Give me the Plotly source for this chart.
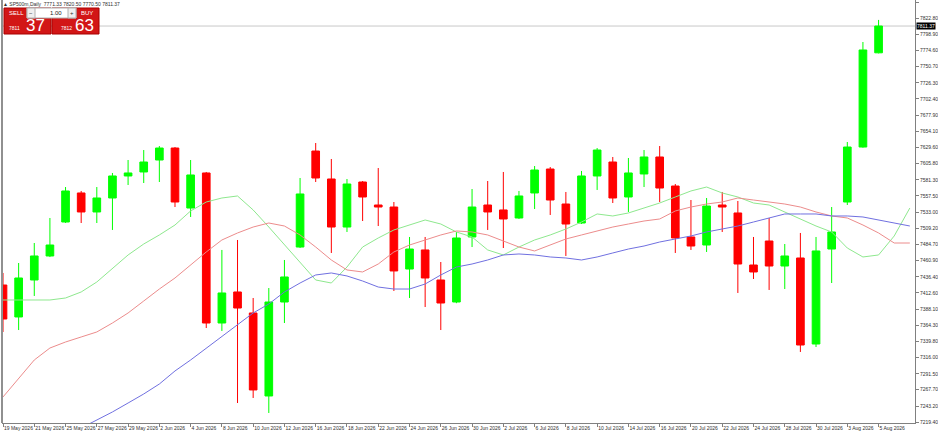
import plotly.graph_objects as go

# ---------------- data ----------------
dates = ["2026-05-19","2026-05-20","2026-05-21","2026-05-22","2026-05-25","2026-05-26","2026-05-27","2026-05-28","2026-05-29",
         "2026-06-01","2026-06-02","2026-06-03","2026-06-04","2026-06-05","2026-06-08","2026-06-09","2026-06-10","2026-06-11","2026-06-12",
         "2026-06-15","2026-06-16","2026-06-17","2026-06-18","2026-06-19","2026-06-22","2026-06-23","2026-06-24","2026-06-25","2026-06-26",
         "2026-06-29","2026-06-30","2026-07-01","2026-07-02","2026-07-03","2026-07-06","2026-07-07","2026-07-08","2026-07-09","2026-07-10",
         "2026-07-13","2026-07-14","2026-07-15","2026-07-16","2026-07-17","2026-07-20","2026-07-21","2026-07-22","2026-07-23","2026-07-24",
         "2026-07-27","2026-07-28","2026-07-29","2026-07-30","2026-07-31","2026-08-03","2026-08-04","2026-08-05"]

opens = [7424.2,7376.4,7431.7,7467.6,7518.4,7561.8,7533.4,7554.3,7587.2,7593.2,7611.1,7629.0,7539.3,7591.7,7367.4,7413.8,7382.4,7258.3,7398.8,
         7481.0,7624.5,7582.7,7510.9,7578.2,7543.8,7540.8,7448.1,7476.6,7431.7,7398.8,7496.0,7543.8,7536.4,7524.4,7561.8,7597.6,7545.3,7516.9,
         7587.2,7608.1,7555.8,7590.2,7615.6,7572.2,7496.0,7484.0,7543.8,7531.9,7454.1,7490.0,7452.6,7464.6,7336.0,7478.0,7548.3,7630.5,7771.33]
highs = [7442.2,7457.1,7487.0,7524.4,7570.7,7564.8,7570.7,7591.7,7611.1,7626.0,7632.0,7630.5,7611.1,7593.2,7476.6,7491.5,7404.8,7419.7,7461.6,
         7584.2,7636.5,7612.6,7582.7,7579.7,7599.1,7548.3,7496.0,7496.0,7458.6,7503.5,7567.7,7579.7,7593.2,7564.8,7602.1,7600.6,7563.3,7594.7,
         7629.0,7615.6,7614.1,7626.0,7632.0,7575.2,7551.3,7554.3,7563.3,7549.8,7496.0,7524.4,7485.5,7502.0,7496.0,7540.8,7638.0,7787.5,7820.50]
lows = [7354.0,7356.9,7407.8,7466.0,7517.0,7516.9,7516.9,7506.5,7573.7,7576.7,7578.2,7540.8,7525.9,7359.9,7355.5,7247.8,7255.3,7232.9,7367.4,
        7479.5,7578.2,7472.1,7503.5,7519.9,7512.4,7415.3,7404.8,7391.3,7356.9,7397.0,7481.0,7506.5,7479.5,7523.0,7537.8,7528.9,7467.6,7515.5,
        7566.3,7546.8,7533.4,7570.7,7548.3,7472.1,7476.6,7473.6,7503.5,7412.3,7433.2,7416.8,7418.2,7324.1,7331.5,7427.2,7543.8,7629.5,7770.50]
closes = [7373.4,7434.7,7467.6,7484.0,7564.8,7533.4,7554.3,7587.2,7591.7,7608.1,7629.0,7548.3,7588.7,7367.4,7412.3,7389.8,7267.3,7398.8,7436.2,
          7560.3,7584.2,7510.9,7575.2,7555.8,7540.8,7445.2,7478.0,7434.7,7397.3,7494.5,7540.8,7533.4,7522.9,7557.3,7596.1,7551.3,7515.4,7587.2,
          7626.0,7554.3,7591.7,7615.6,7569.2,7494.5,7482.5,7542.3,7540.8,7455.6,7443.7,7452.6,7467.6,7334.5,7475.1,7503.5,7630.5,7775.6,7811.37]

# moving averages (drawn shifted 2 bars forward, so 2 extra points at the right)
ma_green = [7401.8,7401.8,7401.8,7401.8,7404.8,7413.8,7428.7,7449.6,7469.1,7485.5,7499.0,7513.9,7534.9,7548.3,7554.3,7557.3,7536.4,7510.9,7484.0,
            7457.1,7431.7,7427.2,7451.1,7481.0,7494.5,7506.5,7513.9,7521.4,7515.4,7503.5,7496.0,7476.6,7469.1,7481.0,7491.5,7499.0,7507.9,7518.4,
            7530.4,7527.4,7531.9,7539.3,7546.8,7555.8,7564.8,7570.7,7561.8,7555.8,7546.8,7543.8,7533.4,7522.9,7512.4,7503.5,7479.5,7466.1,7469.1,
            7497.5,7539.3]
ma_red = [7256.8,7285.2,7312.1,7330.0,7339.0,7346.5,7354.0,7367.4,7382.4,7400.3,7418.2,7434.7,7454.1,7473.6,7491.5,7502.0,7510.9,7516.9,7512.4,
          7499.0,7481.0,7461.6,7446.7,7443.7,7455.6,7473.6,7484.0,7491.5,7499.0,7505.0,7503.5,7499.0,7490.0,7481.0,7475.1,7484.0,7493.0,7499.0,
          7505.0,7510.9,7515.4,7519.9,7522.9,7534.9,7540.8,7545.3,7548.3,7554.3,7551.3,7548.3,7545.3,7540.8,7533.4,7527.4,7524.4,7513.9,7502.0,
          7487.0,7487.0]
ma_blue = [None,None,None,None,None,7210.4,7222.4,7234.4,7247.8,7261.3,7276.2,7295.7,7312.1,7330.0,7346.5,7364.4,7382.4,7395.8,7413.8,
           7427.2,7439.2,7442.2,7437.7,7430.2,7421.2,7418.2,7418.2,7425.7,7439.2,7451.1,7455.6,7461.6,7469.1,7470.6,7469.1,7466.1,7464.6,7461.6,
           7466.1,7472.1,7478.0,7482.5,7488.5,7493.0,7497.5,7503.5,7507.9,7512.4,7518.4,7524.4,7530.4,7530.4,7530.4,7527.4,7527.4,7525.9,7521.4,
           7516.9,7512.4]

tick_labels = ["19 May 2026","21 May 2026","25 May 2026","27 May 2026","29 May 2026","2 Jun 2026","4 Jun 2026","8 Jun 2026","10 Jun 2026",
               "12 Jun 2026","16 Jun 2026","18 Jun 2026","22 Jun 2026","24 Jun 2026","26 Jun 2026","30 Jun 2026","2 Jul 2026","6 Jul 2026",
               "8 Jul 2026","10 Jul 2026","14 Jul 2026","16 Jul 2026","20 Jul 2026","22 Jul 2026","24 Jul 2026","28 Jul 2026","30 Jul 2026",
               "3 Aug 2026","5 Aug 2026"]
price_ticks = [7847.30,7822.80,7798.90,7774.60,7750.70,7726.30,7702.40,7677.90,7654.10,7629.60,7605.80,7581.30,7557.50,7533.00,
               7509.20,7484.70,7460.90,7436.40,7412.60,7388.10,7364.30,7339.80,7316.00,7291.50,7267.70,7243.20,7219.40]

symbol = "SP500m,Daily"
bid, ask, lot = "7811.37", "7812.63", "1.00"

# ---------------- figure ----------------
W, H = 938, 433
L, R, T, B = 2, 23, 0, 10
pw, ph = W - L - R, H - T - B

def fx(p):
    return (p - L) / pw

def fy(p):
    return 1 - (p - T) / ph

bar_idx = list(range(len(dates)))
ma_idx = list(range(len(ma_green)))
FONT = "Liberation Sans"

fig = go.Figure()
fig.add_trace(go.Candlestick(
    x=bar_idx, open=opens, high=highs, low=lows, close=closes,
    increasing=dict(line=dict(color="#00ff00", width=1), fillcolor="#00ff00"),
    decreasing=dict(line=dict(color="#ff0000", width=1), fillcolor="#ff0000"),
    whiskerwidth=0, showlegend=False, hoverinfo="skip"))
fig.add_trace(go.Scatter(x=ma_idx, y=ma_green, mode="lines", line=dict(color="#8ee88e", width=1), showlegend=False, hoverinfo="skip"))
fig.add_trace(go.Scatter(x=ma_idx, y=ma_red, mode="lines", line=dict(color="#ec8c8c", width=1), showlegend=False, hoverinfo="skip"))
fig.add_trace(go.Scatter(x=ma_idx, y=ma_blue, mode="lines", line=dict(color="#7070e0", width=1), showlegend=False, hoverinfo="skip"))

shapes = [
    dict(type="line", xref="paper", yref="y", x0=0, x1=1, y0=closes[-1], y1=closes[-1], line=dict(color="#c8c8c8", width=1), layer="below"),
    dict(type="line", xref="paper", yref="paper", x0=0, x1=0, y0=0, y1=1, line=dict(color="#909090", width=2)),
    # trade panel
    dict(type="rect", xref="paper", yref="paper", x0=fx(4), x1=fx(51), y0=fy(34), y1=fy(8), fillcolor="#d21616", line=dict(color="#a80000", width=1)),
    dict(type="rect", xref="paper", yref="paper", x0=fx(52), x1=fx(99), y0=fy(34), y1=fy(8), fillcolor="#d21616", line=dict(color="#a80000", width=1)),
    dict(type="rect", xref="paper", yref="paper", x0=fx(27), x1=fx(76), y0=fy(18), y1=fy(8), fillcolor="#ffffff", line=dict(color="#b0b0b0", width=1)),
    dict(type="rect", xref="paper", yref="paper", x0=fx(27), x1=fx(35), y0=fy(18), y1=fy(8), fillcolor="#efefef", line=dict(color="#b0b0b0", width=1)),
    dict(type="rect", xref="paper", yref="paper", x0=fx(68), x1=fx(76), y0=fy(18), y1=fy(8), fillcolor="#efefef", line=dict(color="#b0b0b0", width=1)),
]

def txt(x, y, s, size, color, anchor="left"):
    return dict(xref="paper", yref="paper", x=fx(x), y=fy(y), text=s, showarrow=False,
                xanchor=anchor, yanchor="middle", font=dict(family=FONT, size=size, color=color))

annotations = [
    txt(1, 4, "\u25b2 " + symbol + "  " + f"{opens[-1]:.2f} {highs[-1]:.2f} {lows[-1]:.2f} {closes[-1]:.2f}", 5, "#303030"),
    txt(7, 13, "SELL", 6, "white"),
    txt(87, 13, "BUY", 6, "white", "center"),
    txt(31, 13, "\u2212", 6, "#303030", "center"),
    txt(72, 13, "+", 6, "#303030", "center"),
    txt(64, 13, lot, 6, "#202020", "right"),
    txt(14, 28, bid[:4], 5, "white", "center"),
    txt(35, 26, bid[-2:], 17, "white", "center"),
    txt(66, 28, ask[:4], 5, "white", "center"),
    txt(84, 26, ask[-2:], 17, "white", "center"),
    dict(xref="paper", yref="y", x=fx(916), y=closes[-1], text=f"{closes[-1]:.2f}", showarrow=False,
         xanchor="left", yanchor="middle", bgcolor="#000000", borderpad=0,
         font=dict(family=FONT, size=5, color="white")),
]

fig.update_layout(
    width=W, height=H, margin=dict(l=L, r=R, t=T, b=B, autoexpand=False),
    paper_bgcolor="white", plot_bgcolor="white",
    shapes=shapes, annotations=annotations,
    xaxis=dict(range=[-0.064, 58.33], showgrid=False, zeroline=False, rangeslider=dict(visible=False),
               tickmode="array", tickvals=bar_idx[::2], ticktext=tick_labels, tickangle=0, automargin=False,
               ticks="outside", ticklen=3, tickcolor="#808080", ticklabelposition="outside right",
               showline=True, linecolor="#808080", linewidth=1,
               tickfont=dict(family=FONT, size=5, color="#303030")),
    yaxis=dict(range=[7217.9, 7850.3], side="right", showgrid=False, zeroline=False, automargin=False,
               tickmode="array", tickvals=price_ticks, ticktext=[f"{v:.2f}" for v in price_ticks],
               ticks="outside", ticklen=3, tickcolor="#808080",
               showline=True, linecolor="#808080", linewidth=1,
               tickfont=dict(family=FONT, size=5, color="#303030")),
)
fig.write_html("out.html", config={"displayModeBar": False},
               post_script="document.body.style.margin='0';document.body.style.overflow='hidden';")
